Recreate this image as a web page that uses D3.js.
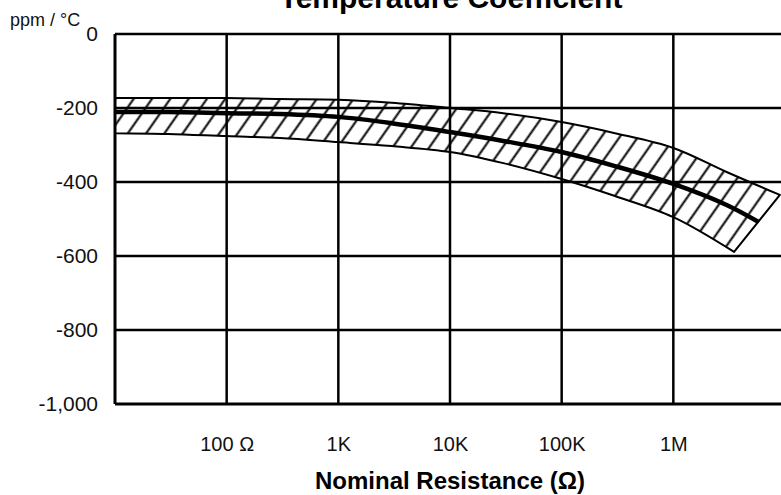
<!DOCTYPE html>
<html>
<head>
<meta charset="utf-8">
<script src="https://cdn.jsdelivr.net/npm/d3@7"></script>
<style>
  body { margin: 0; background: #fff; }
  svg { display: block; font-family: "Liberation Sans", Arial, sans-serif; }
</style>
</head>
<body>
<div id="chart"></div>
<script>
// data
const xGrid = [100, 1e3, 1e4, 1e5, 1e6, 1e7];
const xTickLabels = ["100 Ω", "1K", "10K", "100K", "1M", ""];
const yTicks = [0, -200, -400, -600, -800, -1000];
const yTickLabels = ["0", "-200", "-400", "-600", "-800", "-1,000"];

// band edges (ohm, ppm/°C)
const upperR = [10, 30, 100, 300, 1e3, 3e3, 1e4, 3e4, 1e5, 3e5, 1e6, 3e6, 9e6];
const upperPpm = [-173, -173, -173, -176, -178, -186, -200, -214, -238, -268, -308, -373, -435];
const lowerR = [10, 30, 100, 300, 1e3, 3e3, 1e4, 3e4, 1e5, 3e5, 1e6, 3.5e6];
const lowerPpm = [-268, -270, -276, -281, -292, -303, -319, -349, -392, -438, -495, -589];
const centerR = [10, 30, 100, 300, 1e3, 3e3, 1e4, 3e4, 1e5, 3e5, 1e6, 3e6, 5.8e6];
const centerPpm = [-211, -211, -214, -216, -224, -241, -265, -289, -319, -357, -405, -462, -508];

let dimensions = {
  width: 781,
  height: 495,
  margin: { top: 34, bottom: 91, left: 115, right: -4 },
};
dimensions.containerWidth = dimensions.width - dimensions.margin.left - dimensions.margin.right;
dimensions.containerHeight = dimensions.height - dimensions.margin.top - dimensions.margin.bottom;

const svg = d3.select("#chart").append("svg")
  .attr("width", dimensions.width)
  .attr("height", dimensions.height);

const container = svg.append("g")
  .attr("transform", `translate(${dimensions.margin.left}, ${dimensions.margin.top})`);

const xScale = d3.scaleLog()
  .domain([10, 1e7])
  .range([0, dimensions.containerWidth]);

const yScale = d3.scaleLinear()
  .domain([-1000, 0])
  .range([dimensions.containerHeight, 0]);

// hatch pattern
svg.append("defs").append("pattern")
  .attr("id", "hatch")
  .attr("patternUnits", "userSpaceOnUse")
  .attr("width", 15)
  .attr("height", 15)
  .attr("patternTransform", "rotate(35)")
  .append("line")
  .attr("x1", 7.5).attr("x2", 7.5)
  .attr("y1", 0).attr("y2", 15)
  .attr("stroke", "#000")
  .attr("stroke-width", 2);

// grid
container.selectAll(".hgrid")
  .data(yTicks.slice(0, -1))
  .join("line")
  .attr("class", "hgrid")
  .attr("x1", 0).attr("x2", dimensions.containerWidth)
  .attr("y1", d => yScale(d)).attr("y2", d => yScale(d))
  .attr("stroke", "#000").attr("stroke-width", 2.5);

container.selectAll(".vgrid")
  .data(xGrid)
  .join("line")
  .attr("class", "vgrid")
  .attr("x1", d => xScale(d)).attr("x2", d => xScale(d))
  .attr("y1", 0).attr("y2", dimensions.containerHeight)
  .attr("stroke", "#000").attr("stroke-width", 2.5);

// band
const pts = (rs, ps) => rs.map((r, i) => [xScale(r), yScale(ps[i])]);
const curve = d3.line().curve(d3.curveCatmullRom);
const upperPath = curve(pts(upperR, upperPpm));
const lowerPath = curve(pts(lowerR, lowerPpm).reverse()).replace(/^M/, "L");
const bandPath = upperPath + lowerPath + "Z";

container.append("path")
  .attr("d", bandPath)
  .attr("fill", "url(#hatch)")
  .attr("stroke", "#000")
  .attr("stroke-width", 2)
  .attr("stroke-linejoin", "round");

container.append("path")
  .attr("d", curve(pts(centerR, centerPpm)))
  .attr("fill", "none")
  .attr("stroke", "#000")
  .attr("stroke-width", 4.5);

// axes
const xAxisGroup = container.append("g")
  .attr("transform", `translate(0, ${dimensions.containerHeight})`)
  .call(d3.axisBottom(xScale).tickValues(xGrid).tickSize(0).tickPadding(33)
    .tickFormat((d, i) => xTickLabels[i]));
xAxisGroup.select(".domain").remove();
xAxisGroup.selectAll("text")
  .attr("fill", "#111")
  .style("font-size", "20px");

const yAxisGroup = container.append("g")
  .call(d3.axisLeft(yScale).tickValues(yTicks).tickSize(0).tickPadding(17)
    .tickFormat((d, i) => yTickLabels[i]));
yAxisGroup.select(".domain").remove();
yAxisGroup.selectAll("text")
  .attr("fill", "#111")
  .style("font-size", "21px");

// frame lines (left and bottom)
container.append("line")
  .attr("x1", 0).attr("x2", 0)
  .attr("y1", 0).attr("y2", dimensions.containerHeight)
  .attr("stroke", "#000").attr("stroke-width", 3);
container.append("line")
  .attr("x1", 0).attr("x2", dimensions.containerWidth)
  .attr("y1", dimensions.containerHeight).attr("y2", dimensions.containerHeight)
  .attr("stroke", "#000").attr("stroke-width", 3);

// texts
svg.append("text")
  .attr("x", 451)
  .attr("y", 8)
  .attr("text-anchor", "middle")
  .style("font-size", "30px")
  .style("font-weight", "bold")
  .text("Temperature Coefficient");

svg.append("text")
  .attr("x", 10)
  .attr("y", 26)
  .attr("fill", "#111")
  .style("font-size", "18px")
  .text("ppm / °C");

svg.append("text")
  .attr("x", 450)
  .attr("y", 489)
  .attr("text-anchor", "middle")
  .style("font-size", "24px")
  .style("font-weight", "bold")
  .text("Nominal Resistance (Ω)");
</script>
</body>
</html>
